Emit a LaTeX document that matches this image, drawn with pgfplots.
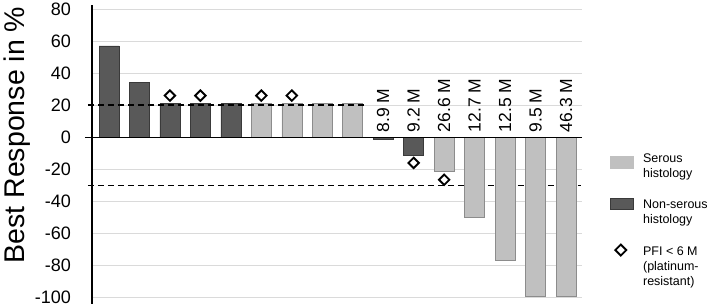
\documentclass[border=0pt]{standalone}
\usepackage{fontspec}
\setmainfont{Liberation Sans}
\usepackage{pgfplots}
\pgfplotsset{compat=1.18}
\definecolor{darkbar}{HTML}{595959}
\definecolor{darkedge}{HTML}{3A3A3A}
\definecolor{lightbar}{HTML}{C0C0C0}
\definecolor{lightedge}{HTML}{8C8C8C}
\definecolor{gridc}{HTML}{DADADA}
\begin{document}
\begin{tikzpicture}
\path[use as bounding box] (0,0) rectangle (709pt,307pt);
\begin{axis}[
  at={(92pt,3pt)}, anchor=south west,
  scale only axis, width=490pt, height=299pt,
  xmin=0.442, xmax=16.525, ymin=-104, ymax=82.5,
  axis x line=none, axis y line=left,
  axis line style={-, black, line width=1.4pt},
  ytick={-100,-80,...,80}, major tick length=0pt,
  ymajorgrids, grid style={gridc, line width=0.8pt},
  /pgf/number format/assume math mode=true,
  yticklabel style={font=\fontsize{18}{18}\selectfont, anchor=east, inner sep=0pt, xshift=-21pt},
  ylabel={Best Response in \%},
  ylabel style={font=\fontsize{28.5}{28.5}\selectfont, at={(axis description cs:-0.153,0.565)}, anchor=center},
  clip=false,
  legend cell align=left,
  legend style={draw=none, fill=none, at={(axis description cs:1.0571,0.5077)}, anchor=north west,
    inner sep=0pt, outer sep=0pt, row sep=16.3pt, column sep=7.5pt,
    font=\fontsize{12.5}{15}\selectfont,
    cells={align=left, inner xsep=0pt, inner ysep=2pt}},
]
% -30 threshold (behind bars)
\addplot[forget plot, black, line width=1.5pt, dash pattern=on 6pt off 4pt] coordinates {(0.31,-30) (16.5,-30)};

% serous histology (light)
\addplot[ybar, bar width=20pt, bar shift=0pt, fill=lightbar, draw=lightedge, line width=0.6pt,
  legend image code/.code={\fill[lightbar] (0pt,-1pt) rectangle (23pt,11pt); \path (0pt,-11pt);}]
  coordinates {(6,21) (7,21) (8,21) (9,21) (12,-21) (13,-50) (14,-77) (15,-99) (16,-99)};
\addlegendentry{Serous\\histology}

% non-serous histology (dark)
\addplot[ybar, bar width=20pt, bar shift=0pt, fill=darkbar, draw=darkedge, line width=0.6pt,
  legend image code/.code={\filldraw[fill=darkbar, draw=darkedge] (0pt,3pt) rectangle (23pt,14.5pt); \path (0pt,-14.5pt);}]
  coordinates {(1,57) (2,34) (3,21) (4,21) (5,21) (10,-1.5) (11,-11)};
\addlegendentry{Non-serous\\histology\rule[-6.6pt]{0pt}{6.6pt}}

% +20 threshold
\addplot[forget plot, black, line width=1.5pt, dash pattern=on 6pt off 4pt] coordinates {(0.31,20) (9.45,20)};
% zero line
\addplot[forget plot, black, line width=1.4pt] coordinates {(0.21,0) (16.525,0)};

% PFI < 6 M
\addplot[only marks, mark=square*, mark size=3.7pt,
  mark options={rotate=45, fill=white, draw=black, line width=1.9pt},
  legend image code/.code={\draw[black, fill=white, line width=1.9pt] (10.5pt,22.5pt) -- (16pt,17pt) -- (10.5pt,11.5pt) -- (5pt,17pt) -- cycle; \path (10.5pt,-23pt);}]
  coordinates {(3,26) (4,26) (6,26) (7,26) (11,-16) (12,-26.5)};
\addlegendentry{PFI < 6 M\\(platinum-\\resistant)}

% time labels
\addplot[forget plot, only marks, mark=none, nodes near coords, point meta=explicit symbolic,
  nodes near coords style={rotate=90, anchor=west, inner sep=0pt, font=\fontsize{17.5}{17.5}\selectfont}]
  table[meta=lab, col sep=comma, row sep=\\] {
  x,y,lab\\
  10,3,8.9 M\\
  11,3,9.2 M\\
  12,3,26.6 M\\
  13,3,12.7 M\\
  14,3,12.5 M\\
  15,3,9.5 M\\
  16,3,46.3 M\\
  };
\end{axis}
\end{tikzpicture}
\end{document}
